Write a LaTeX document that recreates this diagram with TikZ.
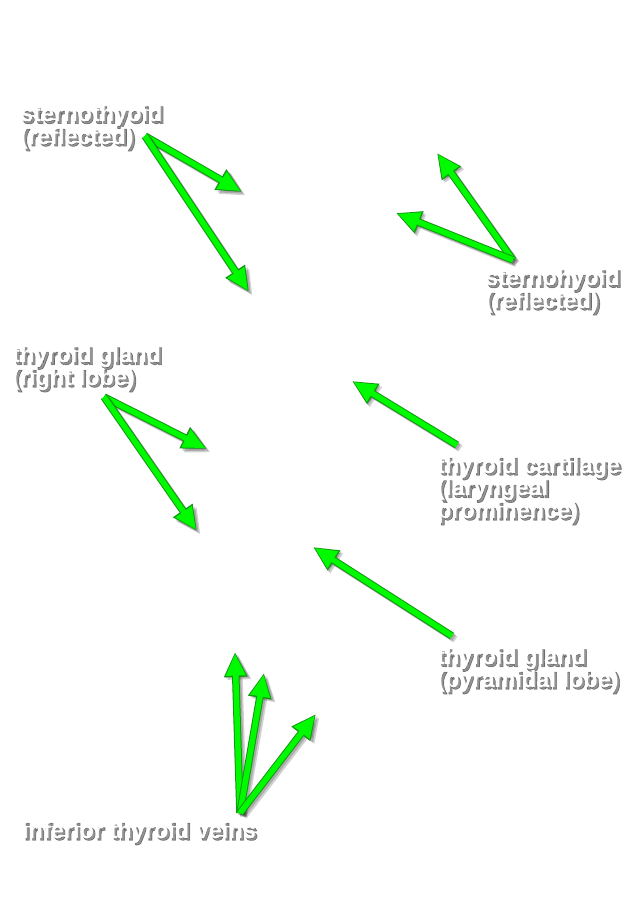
\documentclass[tikz,border=0pt]{standalone}
\usepackage{fontspec}
\setmainfont{Liberation Sans}
\newfontfamily\shfont[FakeBold=2.5]{Liberation Sans Bold}
\usetikzlibrary{arrows.meta}
\definecolor{arrgreen}{RGB}{0,250,0}
\definecolor{arredge}{RGB}{20,150,20}
\tikzset{
  lbl/.style={anchor=base west,align=left,inner sep=0pt,text=white,
    font=\fontsize{23.5}{22.5}\selectfont\bfseries},
  lblshadow/.style={anchor=base west,align=left,inner sep=0pt,text=black,
    opacity=0.42,font=\fontsize{23.5}{22.5}\selectfont\shfont},
  arrshadow/.style={line width=7pt,draw=black,opacity=0.18,
    -{Triangle[length=24pt,width=22pt]}},
  arredgest/.style={line width=7.5pt,draw=arredge,
    -{Triangle[length=25pt,width=22pt]}},
  arrfill/.style={line width=5.5pt,draw=arrgreen,shorten >=1.6pt,
    -{Triangle[length=22pt,width=18.5pt]}},
}
\newcommand{\shlabel}[3]{%
  \node[lblshadow] at ([xshift=2.2pt,yshift=-2.2pt]#2) {#3};
  \node[lbl] (#1) at (#2) {#3};}
\newcommand{\greenarrow}[2]{%
  \foreach \dx/\dy in {2/2,3.5/3.5}{
    \draw[arrshadow] ([xshift=\dx pt,yshift=-\dy pt]#1) -- ([xshift=\dx pt,yshift=-\dy pt]#2);}
  \draw[arredgest] (#1) -- (#2);
  \draw[arrfill] (#1) -- (#2);}
\begin{document}
\begin{tikzpicture}[x=1pt,y=-1pt]
\fill[white] (0,0) rectangle (636,900);
\useasboundingbox (0,0) rectangle (636,900);
% label anchors (base west of last line)
\coordinate (pSthy) at (20,144);
\coordinate (pShy) at (485,308);
\coordinate (pRl) at (12,385);
\coordinate (pCart) at (437,518);
\coordinate (pPyr) at (437,687);
\coordinate (pVein) at (22,838);
% arrow tails and tips
\coordinate (tSthy) at (145,136);
\coordinate (aSthyA) at (242,192);
\coordinate (aSthyB) at (249,292);
\coordinate (tShy) at (513,260);
\coordinate (aShyA) at (437,153);
\coordinate (aShyB) at (396,213);
\coordinate (tRl) at (104,397);
\coordinate (aRlA) at (207,449);
\coordinate (aRlB) at (197,531);
\coordinate (tCart) at (457,445);
\coordinate (aCart) at (352,381);
\coordinate (tPyr) at (452,636);
\coordinate (aPyr) at (313,547);
\coordinate (tVein) at (240,813);
\coordinate (aVeinA) at (235,652);
\coordinate (aVeinB) at (264,673);
\coordinate (aVeinC) at (316,714);
% arrows
\greenarrow{tSthy}{aSthyA}
\greenarrow{tSthy}{aSthyB}
\greenarrow{tShy}{aShyA}
\greenarrow{tShy}{aShyB}
\greenarrow{tRl}{aRlA}
\greenarrow{tRl}{aRlB}
\greenarrow{tCart}{aCart}
\greenarrow{tPyr}{aPyr}
\greenarrow{tVein}{aVeinA}
\greenarrow{tVein}{aVeinB}
\greenarrow{tVein}{aVeinC}
% labels
\shlabel{lSthy}{pSthy}{sternothyoid\\(reflected)}
\shlabel{lShy}{pShy}{sternohyoid\\(reflected)}
\shlabel{lRl}{pRl}{thyroid gland\\(right lobe)}
\shlabel{lCart}{pCart}{thyroid cartilage\\(laryngeal\\prominence)}
\shlabel{lPyr}{pPyr}{thyroid gland\\(pyramidal lobe)}
\shlabel{lVein}{pVein}{inferior thyroid veins}
\end{tikzpicture}
\end{document}
